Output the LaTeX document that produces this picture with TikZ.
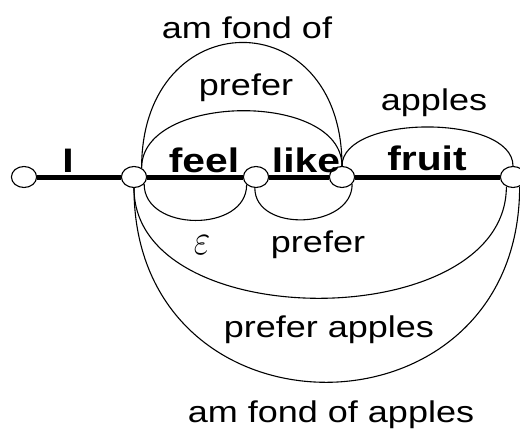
\documentclass[tikz,border=0pt]{standalone}
\usepackage{fontspec}
\setmainfont{Liberation Sans}
\usepackage{amsmath}
\usepackage{graphicx}
\usepackage{tikz}

\begin{document}
\begin{tikzpicture}[x=1pt, y=-1pt]
    \tikzstyle{vertex}=[circle, draw, line width=1.1pt, fill=white,
      minimum size=21pt, inner sep=0pt, xscale=1.2]
    \tikzstyle{lbl}=[anchor=base, inner sep=0pt, xscale=1.2,
      font=\fontsize{30}{30}\selectfont]
    \tikzstyle{tok}=[lbl, font=\fontsize{34}{34}\selectfont\bfseries]
    \tikzstyle{link}=[line width=1.1pt]
    \tikzstyle{chain}=[line width=5pt]

    \useasboundingbox (0,0) rectangle (520,431);

    % lattice states
    \node[vertex] (n1) at (24,177) {};
    \node[vertex] (n2) at (134,177) {};
    \node[vertex] (n3) at (256,177) {};
    \node[vertex] (n4) at (342,177) {};
    \node[vertex] (n5) at (513,177) {};

    % best path
    \draw[chain] (n1) -- (n2);
    \draw[chain] (n2) -- (n3);
    \draw[chain] (n3) -- (n4);
    \draw[chain] (n4) -- (n5);

    \node[tok] (wI) at (68,172) {I};
    \node[tok] (wfeel) at (204,172) {feel};
    \node[tok] (wlike) at (306,172) {like};
    \node[tok] (wfruit) at (427,170) {fruit};

    % alternative edges above
    \draw[link] (n2.55) .. controls +(0,-166) and +(0,-166) .. (n4.north);
    \draw[link] (n2.55) .. controls +(0,-75) and +(0,-75) .. (n4.north);
    \draw[link] (n4.north) .. controls +(0,-52) and +(0,-52) .. (n5.north);

    \node[lbl] (afo) at (247,38) {am fond of};
    \node[lbl] (pf1) at (246,95) {prefer};
    \node[lbl] (ap) at (434,110) {apples};

    % alternative edges below
    \draw[link] (n2.-40) .. controls +(0,48) and +(0,48) .. (n3.-135);
    \draw[link] (n3.-95) .. controls +(0,45) and +(0,45) .. (n4.-40);
    \draw[link] (n2.south) .. controls +(0,148) and +(0,148) .. (n5.-120);
    \draw[link] (n2.south) .. controls +(0,260) and +(0,260) .. (n5.-60);

    \node[lbl] (eps) at (202,254) {\scalebox{1.2}[1.75]{$\varepsilon$}};
    \node[lbl] (pf2) at (318,252) {prefer};
    \node[lbl] (pfa) at (329,337) {prefer apples};
    \node[lbl] (afoa) at (331,422) {am fond of apples};
\end{tikzpicture}
\end{document}
